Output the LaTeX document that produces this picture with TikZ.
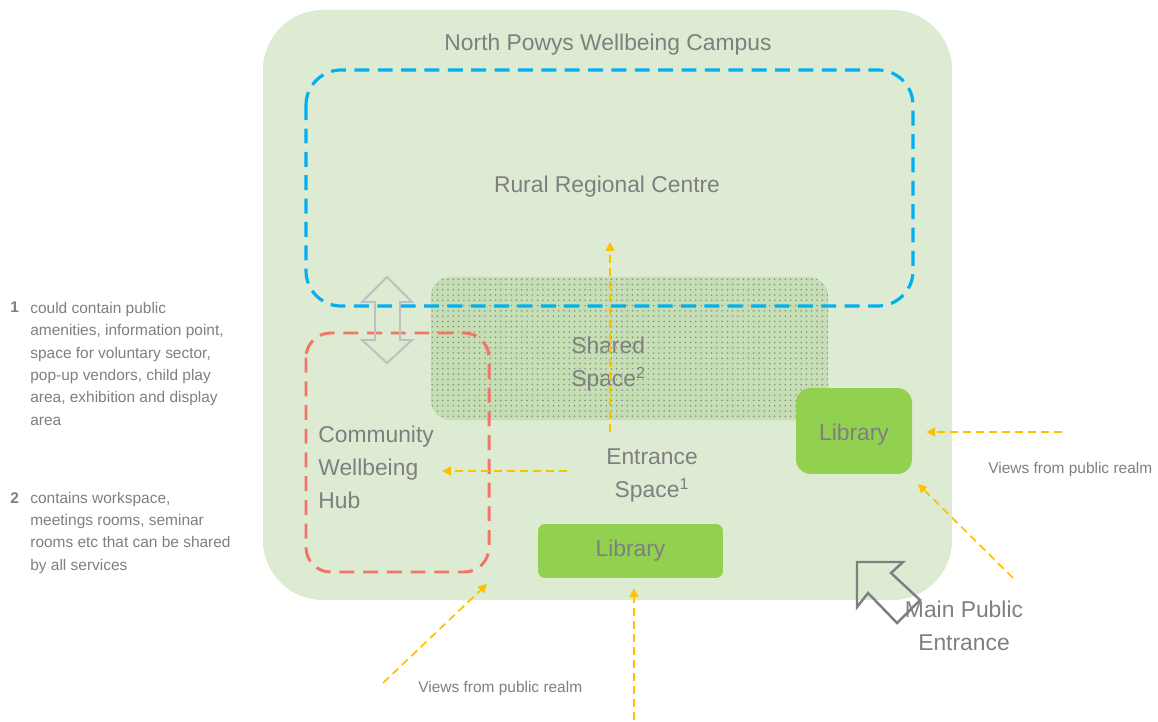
\documentclass[tikz,border=0pt]{standalone}
\usepackage{fontspec}
\setmainfont{Liberation Sans}
\usepackage{xcolor}
\usepackage{tikz}
\usetikzlibrary{arrows.meta,patterns}
\definecolor{campusgreen}{RGB}{221,235,211}
\definecolor{sharedgreen}{RGB}{197,222,179}
\definecolor{libgreen}{RGB}{146,208,80}
\definecolor{zoneblue}{RGB}{0,176,240}
\definecolor{zonered}{RGB}{240,118,104}
\definecolor{viewyellow}{RGB}{255,192,0}
\definecolor{txtgray}{RGB}{127,127,127}
\tikzset{
  big/.style={font=\fontsize{13}{18.6}\selectfont, text=txtgray},
  small/.style={font=\fontsize{8.8}{12.7}\selectfont, text=txtgray},
  campus/.style={fill=campusgreen, rounded corners=34pt},
  shared/.style={fill=sharedgreen, rounded corners=11pt},
  rrczone/.style={draw=zoneblue, line width=1.8pt, dash pattern=on 8.5pt off 4.8pt, rounded corners=20pt},
  hubzone/.style={draw=zonered, line width=1.7pt, dash pattern=on 8.5pt off 5pt, rounded corners=14pt},
  library/.style={fill=libgreen, big, inner sep=0pt},
  linkarrow/.style={draw=black!25, line width=1.1pt, line join=miter},
  entryarrow/.style={draw=txtgray, line width=1.4pt, line join=miter},
  viewarrow/.style={-{Triangle[length=5pt,width=5pt]}, viewyellow, line width=0.95pt, dash pattern=on 4.6pt off 2.8pt},
}

\begin{document}
\begin{tikzpicture}[x=0.02cm, y=-0.02cm]
\useasboundingbox (0,0) rectangle (1158,722);
% campus and zones
\fill[campus] (263,10) rectangle (952,600);
\fill[shared] (431,277) rectangle (828,420);
\fill[pattern=dots, pattern color=black!45, rounded corners=11pt] (431,277) rectangle (828,420);
\draw[rrczone] (306,70) rectangle (913,306);
\draw[hubzone] (306,333) rectangle (489,572);
\draw[linkarrow] (387,277) -- (412,302) -- (400,302) -- (400,340) -- (412,340) -- (387,363)
  -- (362,340) -- (375,340) -- (375,302) -- (362,302) -- cycle;

\node[library, minimum width=2.32cm, minimum height=1.72cm, rounded corners=8.5pt,
  text height=1.05em, text depth=0pt] (libR) at (854,431) {Library};
\node[library, minimum width=3.7cm, minimum height=1.08cm, rounded corners=4pt] (libB) at (630.5,551) {Library};

\node[big, anchor=base] (title) at (608,51) {North Powys Wellbeing Campus};
\node[big, anchor=base] (rrc) at (607,193) {Rural Regional Centre};
\node[big, anchor=base west, align=left, inner sep=0pt] (sharedlab) at (571,386) {Shared\\Space\textsuperscript{2}};
\node[big, anchor=base, align=center, inner sep=0pt] (entrance) at (652,497) {Entrance\\Space\textsuperscript{1}};
\node[big, anchor=base west, align=left, inner sep=0pt] (hub) at (318,508) {Community\\Wellbeing\\Hub};
\node[big, anchor=base, align=center, inner sep=0pt] (mainent) at (964,650) {Main Public\\Entrance};

% views
\coordinate (upS) at (610,432);
\coordinate (upE) at (610,242);
\coordinate (hubS) at (567,471);
\coordinate (hubE) at (442,471);
\coordinate (vR) at (1062,432);
\coordinate (vRdS) at (1013,578);
\coordinate (vRdE) at (918,484);
\coordinate (vLdS) at (383,683);
\coordinate (vLdE) at (487,584);
\coordinate (vB) at (634,720);
\draw[viewarrow] (upS) -- (upE);
\draw[viewarrow] (hubS) -- (hubE);
\draw[viewarrow, shorten >=8pt] (vR) -- (vR -| libR.east);
\draw[viewarrow] (vRdS) -- (vRdE);
\draw[viewarrow] (vLdS) -- (vLdE);
\draw[viewarrow, shorten >=5.7pt] (vB) -- (vB |- libB.south);
\node[small, anchor=base west, inner sep=0pt] (viewsR) at (988,473) {Views from public realm};
\node[small, anchor=base west, inner sep=0pt] (viewsB) at (418,692) {Views from public realm};

% main entrance
\draw[entryarrow] (857,562) -- (903,562) -- (891,573) -- (920,600) -- (897,623) -- (868,593) -- (857,607) -- cycle;

% notes
\node[small, anchor=base west, inner sep=0pt] (num1) at (10,313) {\bfseries 1};
\node[small, anchor=base west, align=left, inner sep=0pt] (note1) at (30,425)
  {could contain public\\amenities, information point,\\space for voluntary sector,\\pop-up vendors, child play\\area, exhibition and display\\area};
\node[small, anchor=base west, inner sep=0pt] (num2) at (10,503) {\bfseries 2};
\node[small, anchor=base west, align=left, inner sep=0pt] (note2) at (30,570)
  {contains workspace,\\meetings rooms, seminar\\rooms etc that can be shared\\by all services};
\end{tikzpicture}
\end{document}
